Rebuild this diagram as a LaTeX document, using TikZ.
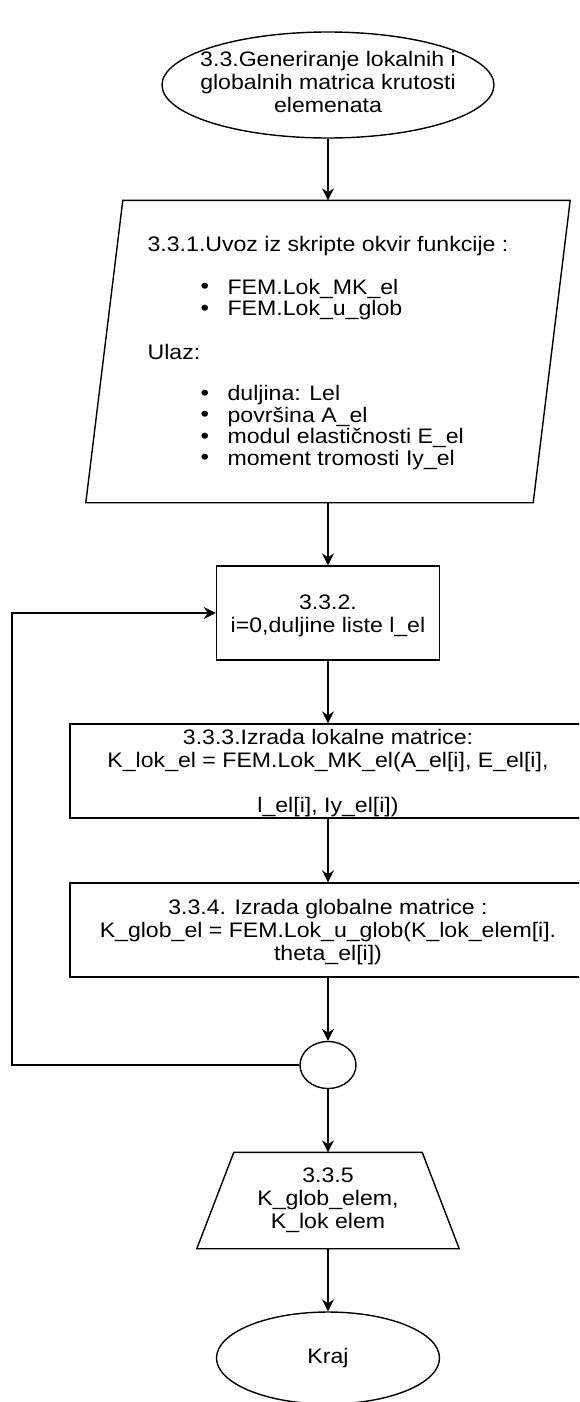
\documentclass[tikz,border=0pt]{standalone}
\usepackage{fontspec}
\setmainfont{Liberation Sans}[FakeStretch=1.1]
\usetikzlibrary{arrows.meta,shapes.geometric,calc}
\newcommand{\bul}{\makebox[80pt][l]{\hspace*{53pt}\raisebox{0.5pt}{\fontsize{22}{22}\selectfont\textbullet}}}
\newcommand{\upstrut}[1]{\rule{0pt}{#1}}
\newcommand{\downstrut}[1]{\rule[-#1]{0pt}{#1}}
\begin{document}
\begin{tikzpicture}[x=1pt,y=-1pt,
  line width=1.4pt,
  txt/.style={font=\fontsize{21}{23}\selectfont, align=center, inner sep=0pt},
  flowbox/.style={draw, rectangle, txt},
  oval/.style={draw, ellipse, txt},
  hidden/.style={rectangle, txt},
  arr/.style={-{Stealth[length=12pt,width=12pt,inset=4pt]}}
]
\useasboundingbox (0,0) rectangle (579,1402);
\clip (0,0) rectangle (579,1402);

% start ellipse
\node[oval, inner xsep=-40pt, minimum width=332pt, minimum height=106pt] (start) at (328,85)
  {3.3.Generiranje lokalnih i\\globalnih matrica krutosti\\elemenata\downstrut{7pt}};

% input parallelogram
\node[hidden, align=left, minimum width=483pt, minimum height=301pt,
      font=\fontsize{21}{21.5}\selectfont] (inp) at (328,353)
  {3.3.1.Uvoz iz skripte okvir funkcije :\\[21.5pt]
   \bul FEM.Lok\_MK\_el\\
   \bul FEM.Lok\_u\_glob\\[22.5pt]
   Ulaz:\\[19.5pt]
   \bul duljina: Lel\\
   \bul površina A\_el\\
   \bul modul elastičnosti E\_el\\
   \bul moment tromosti Iy\_el};
\draw ($(inp.north west)+(37,-1.5)$) -- ($(inp.north east)+(0,-1.5)$)
   -- ($(inp.south east)+(-37,-1.5)$) -- ($(inp.south west)+(0,-1.5)$) -- cycle;

% loop start
\node[flowbox, minimum width=223pt, minimum height=94pt] (r2) at (328,613)
  {\upstrut{21pt}3.3.2.\\i=0,duljine liste l\_el};

\node[flowbox, minimum width=516pt, minimum height=94pt] (r3) at (328,771)
  {\upstrut{19pt}3.3.3.Izrada lokalne matrice:\\K\_lok\_el = FEM.Lok\_MK\_el(A\_el[i], E\_el[i],\\[22pt] l\_el[i], Iy\_el[i])};

\node[flowbox, minimum width=516pt, minimum height=94pt] (r4) at (328,930)
  {\upstrut{19pt}3.3.4. Izrada globalne matrice :\\K\_glob\_el = FEM.Lok\_u\_glob(K\_lok\_elem[i].\\theta\_el[i])};

\node[oval, minimum width=56pt, minimum height=47pt] (c) at (328,1065) {};

% output trapezoid
\node[hidden, minimum width=261pt, minimum height=95pt] (out) at (328,1200.5)
  {3.3.5\\K\_glob\_elem,\\ K\_lok elem};
\draw ($(out.north west)+(37,0)$) -- ($(out.north east)+(-37,0)$)
   -- (out.south east) -- (out.south west) -- cycle;

\node[oval, minimum width=223pt, minimum height=92pt] (end) at (328,1358) {Kraj};

\coordinate (lp) at (12,1065);

\draw[arr] (start.south) -- ($(inp.north)+(0,-1.5)$);
\draw[arr] ($(inp.south)+(0,-1.5)$) -- (r2.north);
\draw[arr] (r2.south) -- (r3.north);
\draw[arr] (r3.south) -- (r4.north);
\draw[arr] (r4.south) -- (c.north);
\draw[arr] (c.south) -- (out.north);
\draw[arr] (out.south) -- (end.north);
\draw[arr] (c.west) -- (c.west -| lp) |- (r2.west);
\end{tikzpicture}
\end{document}
